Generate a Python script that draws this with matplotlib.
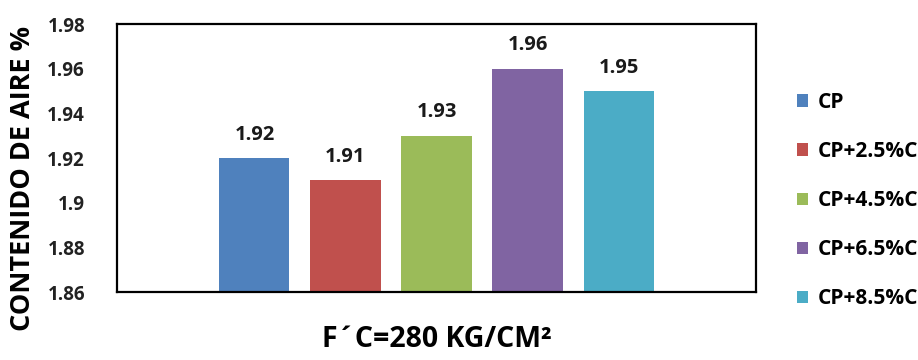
import matplotlib.pyplot as plt

# Air content per mix
categories = ["CP", "CP+2.5%C", "CP+4.5%C", "CP+6.5%C", "CP+8.5%C"]
values = [1.92, 1.91, 1.93, 1.96, 1.95]
colors = ["#4F81BD", "#C0504D", "#9BBB59", "#8064A2", "#4BACC6"]
yticks = [1.86, 1.88, 1.90, 1.92, 1.94, 1.96, 1.98]
ytick_labels = ["1.86", "1.88", "1.9", "1.92", "1.94", "1.96", "1.98"]

plt.rcParams['font.family'] = ['Open Sans', 'DejaVu Sans']
plt.rcParams['font.weight'] = 'bold'

fig = plt.figure(figsize=(9.18, 3.6), dpi=100)
ax = fig.add_axes([117 / 918, 1 - 292 / 360, 639 / 918, 268 / 360])

positions = [i - 2 for i in range(len(values))]
bars = ax.bar(positions, values, width=0.77, color=colors, label=categories,
              zorder=2)

for x, v in zip(positions, values):
    ax.annotate(f"{v:.2f}", (x, v), xytext=(0, 9.5), textcoords="offset points",
                ha="center", va="bottom", fontsize=14.5, fontweight="bold",
                color="#1a1a1a")

ax.set_ylim(1.86, 1.98)
ax.set_xlim(-3.51, 3.51)
ax.set_yticks(yticks)
ax.set_yticklabels(ytick_labels, fontsize=13.5, fontweight="bold", color="#222222")
ax.set_xticks([])
ax.tick_params(axis="y", length=0, pad=23)

for s in ax.spines.values():
    s.set_linewidth(1.6)
    s.set_color("black")

ax.set_ylabel("CONTENIDO DE AIRE %", fontsize=19.5, fontweight="bold")
ax.yaxis.set_label_coords(-0.127, 0.425)
ax.set_xlabel("F´C=280 KG/CM²", fontsize=20.5, fontweight="bold", labelpad=24)

ax.legend(loc="upper left", bbox_to_anchor=(797 / 918, 1 - 92 / 360),
          bbox_transform=fig.transFigure, frameon=False, borderaxespad=0,
          borderpad=0, fontsize=15, handlelength=0.55, handleheight=0.55,
          labelspacing=1.35, handletextpad=0.45)

fig.savefig("out.png", dpi=100)
